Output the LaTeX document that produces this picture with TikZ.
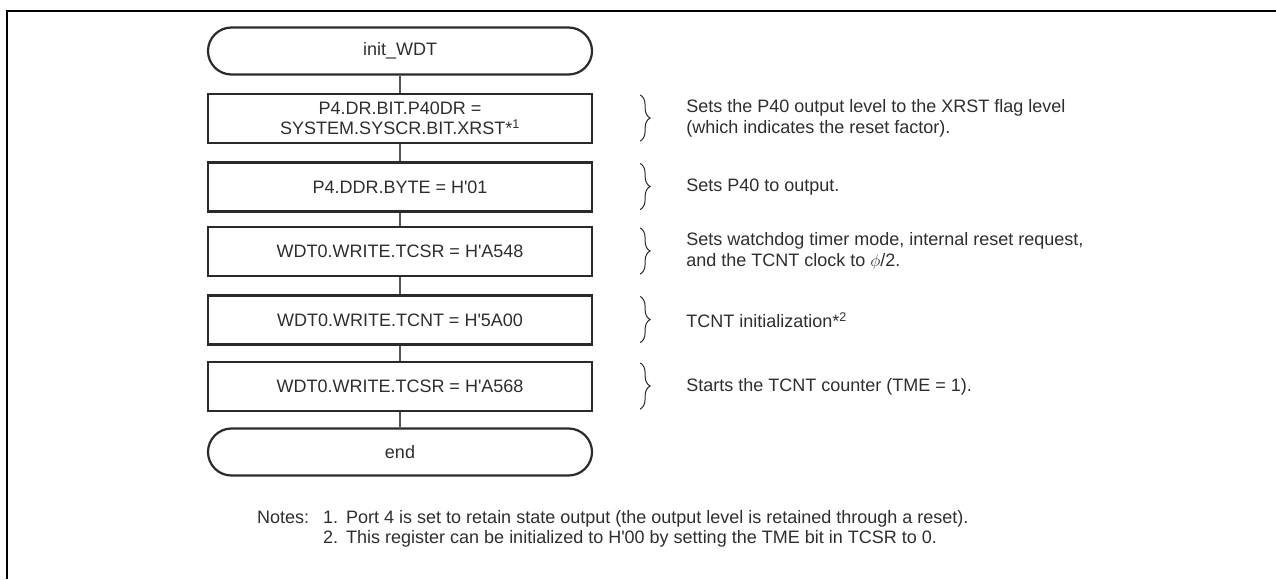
\documentclass[tikz,border=0pt]{standalone}
\usepackage{fontspec}
\setmainfont{Liberation Sans}
\usetikzlibrary{calc,decorations.pathreplacing}
\definecolor{txt}{HTML}{2E2E2E}
\definecolor{edge}{HTML}{2A2A2A}
\definecolor{conn}{HTML}{555555}
\newcommand{\sq}{\textquotesingle}
\begin{document}
\begin{tikzpicture}[x=1pt,y=-1pt,
  every node/.style={text=txt,font=\fontsize{18}{20}\selectfont},
  term/.style={draw=edge,line width=2.2pt,rounded corners=23.5pt,minimum width=384pt,minimum height=47pt,inner sep=0pt},
  proc/.style={draw=edge,line width=2.2pt,minimum width=384pt,minimum height=49pt,inner sep=0pt,align=center},
  link/.style={draw=conn,line width=1.5pt},
  brc/.style={draw=edge,line width=1pt,decorate,decoration={brace,amplitude=10pt}},
  note/.style={anchor=west,inner sep=0pt,align=left,font=\fontsize{18}{21}\selectfont}
]
\useasboundingbox (0,0) rectangle (1276,579);
% frame
\draw[line width=2.4pt] (7,579) -- (7,11) -- (1276,11);

% flowchart nodes
\node[term] (start) at (400,51) {init\_WDT};
\node[proc] (b1) at (400,118.5) {P4.DR.BIT.P40DR =\\SYSTEM.SYSCR.BIT.XRST*\textsuperscript{1}};
\node[proc] (b2) at (400,187) {P4.DDR.BYTE = H\sq 01};
\node[proc] (b3) at (400,251.5) {WDT0.WRITE.TCSR = H\sq A548};
\node[proc] (b4) at (400,320) {WDT0.WRITE.TCNT = H\sq 5A00};
\node[proc] (b5) at (400,386.5) {WDT0.WRITE.TCSR = H\sq A568};
\node[term] (stop) at (400,452) {end};

% connectors
\draw[link] (start.south) -- (b1.north);
\draw[link] (b1.south) -- (b2.north);
\draw[link] (b2.south) -- (b3.north);
\draw[link] (b3.south) -- (b4.north);
\draw[link] (b4.south) -- (b5.north);
\draw[link] (b5.south) -- (stop.north);

% braces
\foreach \b in {b1,b2,b3,b4,b5}{
  \draw[brc] ($(\b.north east)+(47,2)$) -- ($(\b.south east)+(47,-3)$);
}

% descriptions
\node[note] (t1) at ($(b1.east)+(93,0)$) {Sets the P40 output level to the XRST flag level\\(which indicates the reset factor).};
\node[note] (t2) at ($(b2.east)+(93,0)$) {Sets P40 to output.};
\node[note] (t3) at ($(b3.east)+(93,0)$) {Sets watchdog timer mode, internal reset request,\\and the TCNT clock to $\phi$/2.};
\node[note] (t4) at ($(b4.east)+(93,0)$) {TCNT initialization*\textsuperscript{2}};
\node[note] (t5) at ($(b5.east)+(93,0)$) {Starts the TCNT counter (TME = 1).};

% notes
\node[anchor=base west,inner sep=0pt,align=left,font=\fontsize{18}{20}\selectfont] (notes) at (257,543)
 {\makebox[66pt][l]{Notes:}\makebox[23pt][l]{1.}Port 4 is set to retain state output (the output level is retained through a reset).\\
  \hspace*{66pt}\makebox[23pt][l]{2.}This register can be initialized to H\sq 00 by setting the TME bit in TCSR to 0.};
\end{tikzpicture}
\end{document}
